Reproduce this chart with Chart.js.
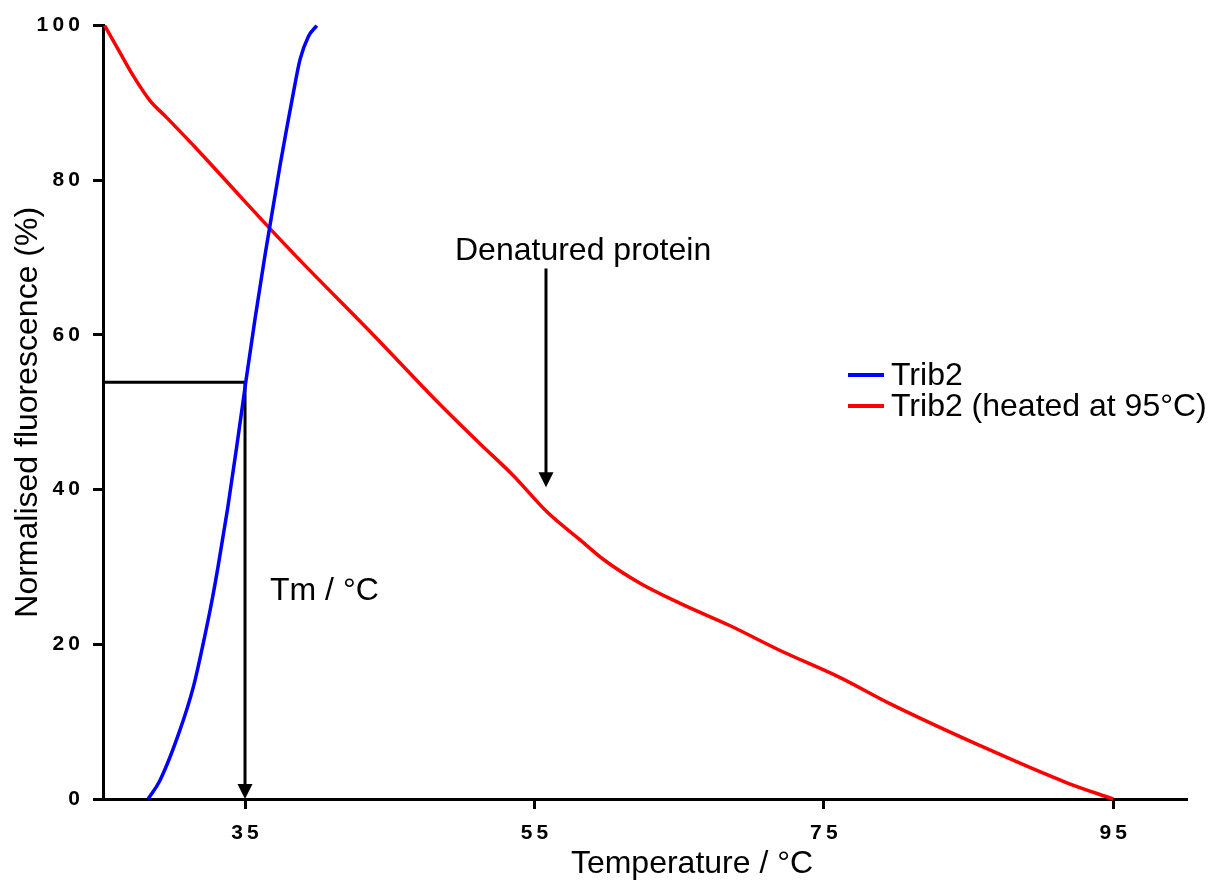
<!DOCTYPE html>
<html>
<head>
<meta charset="utf-8">
<script src="https://cdn.jsdelivr.net/npm/chart.js@4.4.1/dist/chart.umd.min.js"></script>
<style>
  body { margin: 0; background: #fff; }
</style>
</head>
<body>
<canvas id="meltChart" width="1222" height="881"></canvas>
<script>
const xTicks = [35, 55, 75, 95];
const yTicks = [0, 20, 40, 60, 80, 100];

// Trib2 (blue)
const trib2Temp  = [28.3, 29.12, 30.5, 31.43, 32.12, 32.7, 33.16, 33.8, 34.43, 35.05, 35.7, 36.38, 37.42, 37.88, 38.34, 38.8, 39.38, 39.96];
const trib2Fluor = [0, 2.4, 8.9, 14.5, 20.2, 25.5, 30.3, 37.6, 45.6, 53.9, 62.2, 70.3, 81.9, 86.7, 91.3, 95.6, 98.6, 100];

// Trib2 heated at 95 °C (red)
const heatedTemp  = [25.3, 26.36, 27.28, 28.43, 29.59, 31.89, 34.19, 36.5, 38.57, 43.87, 48.48, 51.2, 53.55, 55.88, 58.16, 59.75, 62.3, 65.07, 68.53, 71.98, 76.13, 79.6, 85.8, 91.8, 95.0];
const heatedFluor = [100, 96.5, 93.5, 90.3, 88.1, 83.6, 78.9, 74.2, 70.1, 60.0, 51.0, 46.0, 41.8, 37.1, 33.5, 31.0, 27.9, 25.3, 22.4, 19.2, 15.7, 12.3, 6.9, 2.1, 0];

const seriesNames = ['Trib2', 'Trib2 (heated at 95\u00b0C)'];
const seriesColors = ['#0000ff', '#ff0000'];

// annotation values
const xMin = 25.185;
const xMax = 100.1;
const tmTemp = 35;
const tmFluor = 53.9;
const denaturedTemp = 55.8;
const denaturedTop = 68.6;
const denaturedTip = 40.3;

const FONT = '"Liberation Sans", Arial, sans-serif';

function toPoints(xs, ys) {
  return xs.map((x, i) => ({ x: x, y: ys[i] }));
}

// thin spaces between digits, like the spaced-out tick labels of the original
function spaced(v) {
  return String(v).split('').join('\u2009');
}

const annotationPlugin = {
  id: 'annotations',
  afterDatasetsDraw(chart) {
    const ctx = chart.ctx;
    const xs = chart.scales.x;
    const ys = chart.scales.y;

    function arrowHead(px, py) {
      ctx.beginPath();
      ctx.moveTo(px, py);
      ctx.lineTo(px - 7.5, py - 15);
      ctx.lineTo(px + 7.5, py - 15);
      ctx.closePath();
      ctx.fill();
    }

    ctx.save();
    ctx.fillStyle = '#000';
    arrowHead(xs.getPixelForValue(tmTemp), ys.getPixelForValue(0));
    arrowHead(xs.getPixelForValue(denaturedTemp), ys.getPixelForValue(denaturedTip));

    ctx.font = '32px ' + FONT;
    ctx.textBaseline = 'alphabetic';
    ctx.textAlign = 'left';
    ctx.fillText('Denatured protein', 455, 260);
    ctx.fillText('Tm / \u00b0C', 270, 600);

    // x axis title
    ctx.textAlign = 'center';
    ctx.fillText('Temperature / \u00b0C', 692, 873);

    // legend
    ctx.textAlign = 'left';
    ctx.font = '32px ' + FONT;
    seriesNames.forEach((name, i) => {
      const y = 375 + i * 31;
      ctx.strokeStyle = seriesColors[i];
      ctx.lineWidth = 4;
      ctx.beginPath();
      ctx.moveTo(848, y);
      ctx.lineTo(884, y);
      ctx.stroke();
      ctx.fillStyle = '#000';
      ctx.fillText(name, 891, y + 10);
    });
    ctx.restore();
  }
};

new Chart(document.getElementById('meltChart'), {
  type: 'scatter',
  data: {
    datasets: [
      {
        label: seriesNames[0],
        data: toPoints(trib2Temp, trib2Fluor),
        showLine: true,
        borderColor: seriesColors[0],
        borderWidth: 3.5,
        pointRadius: 0,
        cubicInterpolationMode: 'monotone',
        clip: false
      },
      {
        label: seriesNames[1],
        data: toPoints(heatedTemp, heatedFluor),
        showLine: true,
        borderColor: seriesColors[1],
        borderWidth: 3.5,
        pointRadius: 0,
        cubicInterpolationMode: 'monotone',
        clip: false
      },
      {
        label: 'Tm guide',
        data: [{ x: xMin, y: tmFluor }, { x: tmTemp, y: tmFluor }, { x: tmTemp, y: 1.5 }],
        showLine: true,
        borderColor: '#000',
        borderWidth: 3,
        pointRadius: 0,
        clip: false
      },
      {
        label: 'Denatured arrow',
        data: [{ x: denaturedTemp, y: denaturedTop }, { x: denaturedTemp, y: denaturedTip + 1.5 }],
        showLine: true,
        borderColor: '#000',
        borderWidth: 3,
        pointRadius: 0,
        clip: false
      }
    ]
  },
  options: {
    responsive: false,
    animation: false,
    devicePixelRatio: 1,
    layout: { padding: { top: 21, right: 35, left: 0, bottom: 0 } },
    plugins: {
      legend: { display: false },
      tooltip: { enabled: false }
    },
    scales: {
      x: {
        type: 'linear',
        min: xMin,
        max: xMax,
        afterBuildTicks: scale => { scale.ticks = xTicks.map(v => ({ value: v })); },
        afterFit: scale => { scale.height = 82; },
        grid: { drawOnChartArea: false, drawTicks: true, tickLength: 10, tickWidth: 3, tickColor: '#000' },
        border: { display: true, width: 3, color: '#000' },
        ticks: {
          color: '#000',
          padding: 12,
          font: { family: FONT, size: 21, weight: 'bold' },
          callback: v => spaced(v)
        }
      },
      y: {
        min: 0,
        max: 100,
        afterBuildTicks: scale => { scale.ticks = yTicks.map(v => ({ value: v })); },
        afterFit: scale => { scale.width = 103; },
        grid: { drawOnChartArea: false, drawTicks: true, tickLength: 10, tickWidth: 3, tickColor: '#000' },
        border: { display: true, width: 3, color: '#000' },
        title: {
          display: true,
          text: 'Normalised fluorescence (%)',
          color: '#000',
          font: { family: FONT, size: 32 },
          padding: { top: 9, bottom: 0 }
        },
        ticks: {
          color: '#000',
          padding: 13,
          font: { family: FONT, size: 21, weight: 'bold' },
          callback: v => spaced(v)
        }
      }
    }
  },
  plugins: [annotationPlugin]
});
</script>
</body>
</html>
